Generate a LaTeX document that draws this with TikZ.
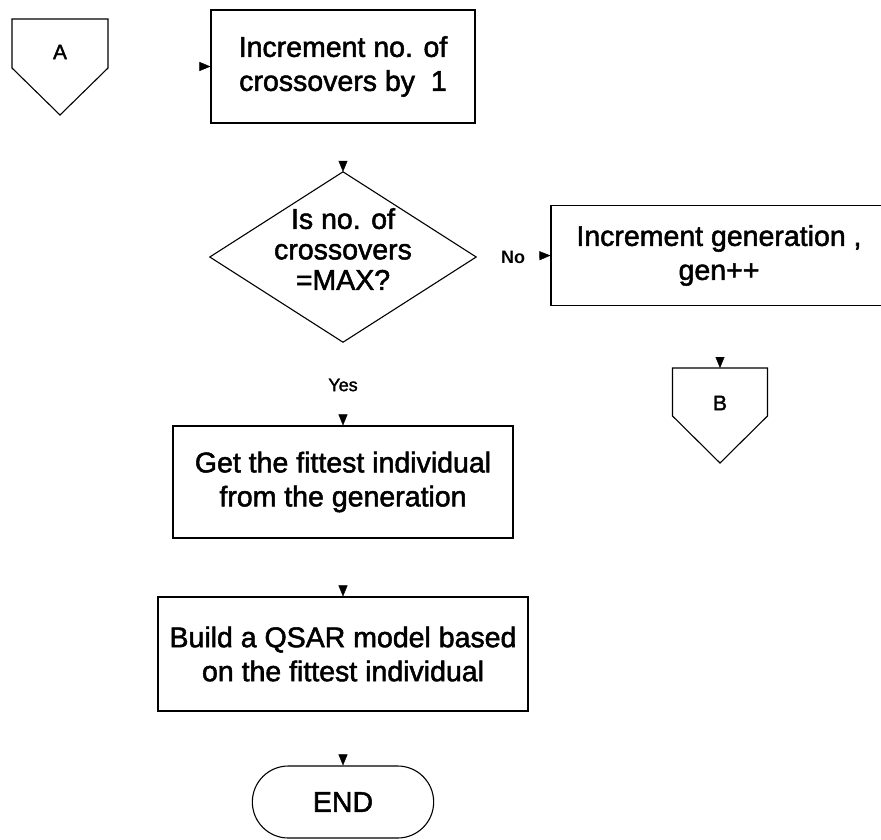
\documentclass[tikz,border=0pt]{standalone}
\usepackage{fontspec}
\setmainfont{Liberation Sans}[UprightFeatures={FakeBold=1.8}]
\usetikzlibrary{arrows.meta,decorations.markings,shapes.misc}

\newcommand{\bodyfont}{\fontsize{28.5}{34}\selectfont}
\newcommand{\tagfont}{\fontsize{21}{25}\selectfont}
\newcommand{\branchfont}{\fontsize{18}{22}\selectfont}

\tikzset{
  stepbox/.style={draw, line width=1.1pt, align=center, inner sep=2pt, font=\bodyfont},
  frame/.style={draw=none, inner sep=0pt},
  outline/.style={draw, line width=1.1pt, line join=miter},
  tagtext/.style={inner sep=0pt, font=\tagfont},
  branch/.style={inner sep=0pt, font=\branchfont},
  terminal/.style={draw, line width=1.1pt, rounded rectangle, font=\bodyfont},
  % connectors show only their arrowhead
  tiponly/.style={postaction={decorate}, decoration={markings,
      mark=at position 1 with {\arrow{Triangle[length=11pt,width=9pt]}}}},
}

\begin{document}
\begin{tikzpicture}[x=1pt, y=-1pt]
  \useasboundingbox (0,0) rectangle (881,839);

  % off-page connector A
  \node[tagtext] (A) at (60,52) {A};
  \draw[outline, shift={(A)}] (-48,-33) -- (48,-33) -- (48,16) -- (0,63) -- (-48,16) -- cycle;

  % process boxes
  \node[stepbox, minimum width=264pt, minimum height=113pt] (r1) at (343,66.5)
    {Increment no. of\\crossovers by \ 1};

  % decision
  \node[frame, minimum width=266pt, minimum height=170pt] (d1) at (343,257) {};
  \draw[outline] (d1.north) -- (d1.east) -- (d1.south) -- (d1.west) -- cycle;
  \node[inner sep=0pt, align=center, font=\fontsize{28.5}{30.5}\selectfont] (d1t) at (343,249)
    {Is no. of\\crossovers\\=MAX?};

  \node[stepbox, minimum width=336pt, minimum height=100pt] (r2) at (719,255.5)
    {Increment generation ,\\gen++};

  \node[stepbox, minimum width=340pt, minimum height=112pt] (r3) at (343,482)
    {Get the fittest individual\\from the generation};

  \node[stepbox, minimum width=370pt, minimum height=114pt] (r4) at (343,654)
    {Build a QSAR model based\\on the fittest individual};

  \node[terminal, minimum width=188pt, minimum height=72pt] (end) at (343,802) {END};

  % off-page connector B
  \node[tagtext] (B) at (720,403) {B};
  \coordinate (Btop) at (720,368);
  \draw[outline, shift={(B)}] (-47.5,-35) -- (47.5,-35) -- (47.5,13) -- (0,60) -- (-47.5,13) -- cycle;

  % branch labels
  \node[branch] (no) at (513,257) {\bfseries No};
  \node[branch] (yes) at (343,385) {Yes};

  % connectors
  \path[tiponly] (A |- r1.west) -- (r1.west);
  \path[tiponly] (r1.south) -- (d1.north);
  \path[tiponly] (d1.east) -- (r2.west);
  \path[tiponly] (d1.south) -- (r3.north);
  \path[tiponly] (Btop |- r2.south) -- (Btop);
  \path[tiponly] (r3.south) -- (r4.north);
  \path[tiponly] (r4.south) -- (end.north);
\end{tikzpicture}
\end{document}
